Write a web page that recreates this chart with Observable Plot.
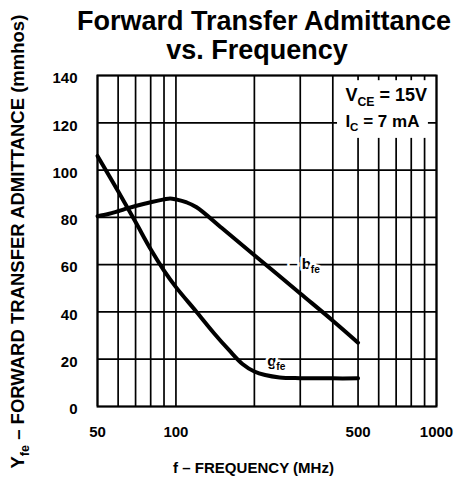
<!DOCTYPE html>
<html><head><meta charset="utf-8">
<script src="https://cdn.jsdelivr.net/npm/d3@7"></script>
<script src="https://cdn.jsdelivr.net/npm/@observablehq/plot@0.6"></script>
<style>
body{margin:0;background:#fff;}
#wrap{position:relative;width:461px;height:482px;}
.tl{position:absolute;left:0;width:461px;box-sizing:border-box;text-align:center;white-space:nowrap;font:bold 27px/29px "Liberation Sans",Arial,Helvetica,sans-serif;color:#000;z-index:2;}
#t1{top:7px;padding-left:67px;}
#t2{top:36px;padding-left:53px;}
</style></head><body>
<div id="wrap"><div class="tl" id="t1">Forward Transfer Admittance</div><div class="tl" id="t2">vs. Frequency</div><div id="chart"></div></div>
<script>
// ---- data ----
const xTicks = [50, 100, 500, 1000];
const xGrid = [50, 60, 70, 80, 90, 100, 200, 300, 400, 500, 600, 700, 800, 900, 1000];
const yTicks = [0, 20, 40, 60, 80, 100, 120, 140];

const bFreq = [50, 55, 60, 65, 70, 80, 90, 95, 100, 110, 120, 150, 200, 300, 400, 500];
const bVal  = [80.5, 81.4, 82.6, 83.8, 84.8, 86.4, 87.6, 88, 87.6, 86.3, 84.3, 75.5, 64, 47.8, 36.3, 27];

const gFreq = [50, 60, 70, 80, 90, 100, 120, 140, 160, 180, 200, 220, 250, 300, 400, 500];
const gVal  = [106, 91, 78, 66.5, 57.5, 50.5, 40, 31, 23.8, 18, 14.8, 13.3, 12.3, 12, 11.9, 11.9];

const curveLabels = [{f: 272, v: 60, text: "– b_{fe}"}, {f: 224, v: 19, text: "g_{fe}"}];
const noteV = [{f: 447, v: 131.5, text: "V_{CE} = 15V"}];
const noteI = [{f: 447, v: 120.5, text: "I_{C} = 7 mA"}];
const noteBox = [{x1: 417, x2: 931, y1: 113.4, y2: 137.8}];
const xLabel = "f – FREQUENCY (MHz)";
const yLabel = "Y_{fe} – FORWARD TRANSFER ADMITTANCE (mmhos)";

const bData = bFreq.map((f, i) => ({f, v: bVal[i]}));
const gData = gFreq.map((f, i) => ({f, v: gVal[i]}));

const fontFam = '"Liberation Sans", Arial, Helvetica, sans-serif';

const plot = Plot.plot({
  width: 461, height: 482,
  marginTop: 75, marginBottom: 76, marginLeft: 97, marginRight: 25,
  x: {type: "log", domain: [50, 1000], axis: null},
  y: {domain: [0, 140], axis: null},
  style: {fontFamily: fontFam, fontWeight: "bold", background: "#fff", color: "#000", overflow: "visible"},
  marks: [
    Plot.ruleX(xGrid, {stroke: "#000", strokeWidth: 1.7}),
    Plot.ruleY(yTicks, {stroke: "#000", strokeWidth: 1.7}),
    Plot.rect(noteBox, {x1: "x1", x2: "x2", y1: "y1", y2: "y2", fill: "#fff"}),
    Plot.line(bData, {x: "f", y: "v", stroke: "#000", strokeWidth: 4, curve: "catmull-rom"}),
    Plot.line(gData, {x: "f", y: "v", stroke: "#000", strokeWidth: 4, curve: "catmull-rom"}),
    Plot.text(curveLabels, {x: "f", y: "v", text: "text", textAnchor: "start", fontSize: 15, fontWeight: "bold", fill: "#000", stroke: "#fff", strokeWidth: 5}),
    Plot.text(noteV, {x: "f", y: "v", text: "text", textAnchor: "start", fontSize: 18, fontWeight: "bold", fill: "#000"}),
    Plot.text(noteI, {x: "f", y: "v", text: "text", textAnchor: "start", fontSize: 17, fontWeight: "bold", fill: "#000"}),
    Plot.text(xTicks, {x: d => d, frameAnchor: "bottom", lineAnchor: "top", dy: 20, text: d => String(d), fontSize: 15, fontWeight: "bold"}),
    Plot.text(yTicks, {y: d => d, frameAnchor: "left", textAnchor: "end", dx: -20, dy: 3, text: d => String(d), fontSize: 15, fontWeight: "bold"}),
    Plot.frame({stroke: "#000", strokeWidth: 2}),
    Plot.text([xLabel], {frameAnchor: "bottom", textAnchor: "middle", lineAnchor: "middle", dx: -13.5, dy: 62, fontSize: 15, fontWeight: "bold"}),
    Plot.text([yLabel], {frameAnchor: "left", textAnchor: "start", lineAnchor: "middle", rotate: -90, dx: -79, dy: 227.5, fontSize: 18.5, fontWeight: "bold"})
  ]
});
document.getElementById("chart").appendChild(plot);

// turn "_{..}" into real subscript tspans
const NS = "http://www.w3.org/2000/svg";
function tspan(s) { const e = document.createElementNS(NS, "tspan"); e.textContent = s; return e; }
plot.querySelectorAll("text").forEach(t => {
  const s = t.textContent;
  if (s === xLabel) { t.setAttribute("textLength", 161); t.setAttribute("lengthAdjust", "spacing"); }
  if (!s.includes("_{")) return;
  const fs = parseFloat(getComputedStyle(t).fontSize) || 15;
  const subFs = fs * 0.68, shift = fs * 0.24;
  while (t.firstChild) t.removeChild(t.firstChild);
  const re = /_\{([^}]*)\}/g;
  let last = 0, m, pending = 0;
  while ((m = re.exec(s))) {
    const pre = s.slice(last, m.index);
    if (pre) { const ts = tspan(pre); if (pending) { ts.setAttribute("dy", -pending); pending = 0; } t.appendChild(ts); }
    const sub = tspan(m[1]);
    sub.setAttribute("font-size", subFs);
    sub.setAttribute("dy", shift);
    pending = shift;
    t.appendChild(sub);
    last = re.lastIndex;
  }
  const rest = s.slice(last);
  if (rest) { const ts = tspan(rest); if (pending) ts.setAttribute("dy", -pending); t.appendChild(ts); }
});
</script>
</body></html>
